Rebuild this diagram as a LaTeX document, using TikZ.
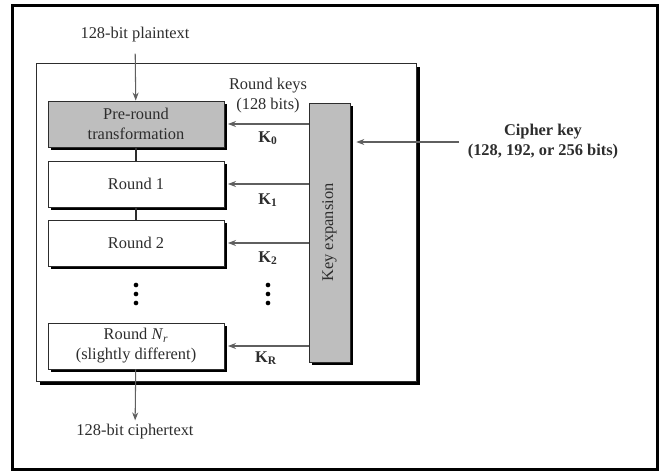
\documentclass[tikz,border=0pt]{standalone}
\usepackage{fontspec}
\setmainfont{Liberation Serif}
\usetikzlibrary{arrows.meta, positioning, shadows, calc}
\definecolor{KeyGray}{RGB}{190,190,190}
\definecolor{InkGray}{RGB}{45,45,45}
\definecolor{WireGray}{RGB}{95,95,95}

\begin{document}
\begin{tikzpicture}[x=0.03cm, y=-0.03cm,
	font=\fontsize{14}{17}\selectfont, text=InkGray,
	rd/.style={rectangle, draw=InkGray, thick, fill=white, minimum width=5.28cm, minimum height=1.38cm, inner sep=0pt, align=center,
		drop shadow={shadow xshift=0.08cm, shadow yshift=-0.08cm, fill=black, opacity=1}},
	pr/.style={rd, fill=KeyGray},
	kx/.style={rd, fill=KeyGray, minimum width=1.23cm, minimum height=7.77cm},
	stage/.style={rectangle, draw=InkGray, thick, fill=white, minimum width=11.4cm, minimum height=9.54cm, inner sep=0pt,
		drop shadow={shadow xshift=0.12cm, shadow yshift=-0.12cm, fill=black, opacity=1}},
	kl/.style={font=\fontsize{14}{17}\selectfont\bfseries},
	fl/.style={-{Stealth[length=2.4mm, width=1.8mm]}, WireGray, line width=0.9pt},
	ln/.style={InkGray, line width=0.9pt}]

	\useasboundingbox (0,0) rectangle (662,471);
	\node[draw=black, line width=2.6pt, minimum width=19.35cm, minimum height=13.92cm, inner sep=0pt] (frame) at (335,237.5) {};

	\node[stage] (box) at (226,222) {};

	\node[pr] (pre) at (136,124) {Pre-round\\transformation};
	\node[rd] (r1)  at (136,184) {Round 1};
	\node[rd] (r2)  at (136,243) {Round 2};
	\node[rd] (rn)  at (136,346) {Round \textit{N}\textsubscript{\textit{r}}\\(slightly different)};
	\node[kx] (kexp) at (329.5,232.5) {\rotatebox{90}{Key expansion}};

	\node (plain) at (135,35)  {128-bit plaintext};
	\node (ctext) at (135,432) {128-bit ciphertext};
	\node[align=center] (rkeys) at (268,96) {Round keys\\(128 bits)};
	\node[kl] (k0) at (268,138) {K\textsubscript{0}};
	\node[kl] (k1) at (268,200) {K\textsubscript{1}};
	\node[kl] (k2) at (268,258) {K\textsubscript{2}};
	\node[kl] (kr) at (266,358) {K\textsubscript{R}};
	\node[kl, align=center] (ckey) at (543,142) {Cipher key\\(128, 192, or 256 bits)};
	\coordinate (cin) at (459,142);

	% dots
	\foreach \x in {136,268}
		\foreach \d in {285,294,303}
			\fill[black] (\x,\d) circle (0.07cm);

	\draw[fl, shorten <=6pt] (plain) -- (pre);
	\draw[ln] (pre) -- (r1);
	\draw[ln] (r1) -- (r2);
	\draw[fl] (rn) -- (ctext);
	\foreach \b in {pre,r1,r2,rn}
		\draw[fl, shorten >=3pt] (kexp.west |- \b.east) -- (\b.east);
	\draw[fl, shorten >=5pt] (cin) -- (kexp.east |- cin);
\end{tikzpicture}
\end{document}
